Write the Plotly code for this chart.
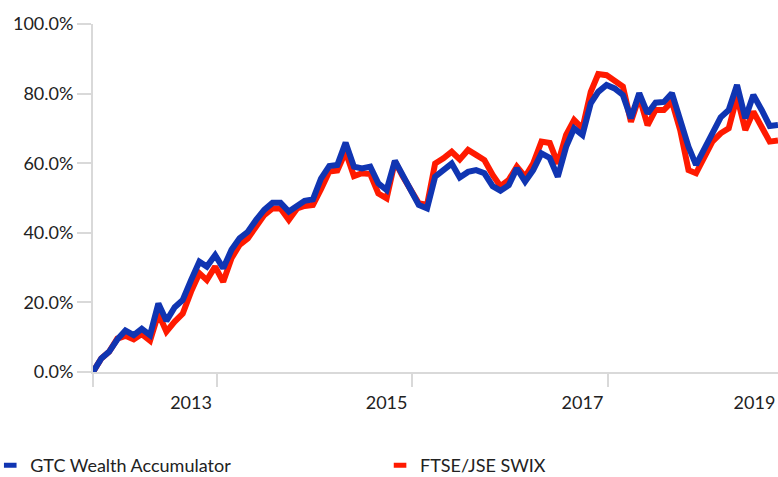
import pandas as pd
import plotly.graph_objects as go

dates = pd.date_range("2012-01-01", periods=85, freq="MS")

gtc = [0, 3.9, 5.8, 9.4, 11.9, 10.6, 12.4, 10.6, 19.7, 14.7,
       18.6, 20.7, 26.4, 31.7, 30.3, 33.6, 29.8, 35.1, 38.4, 40.3,
       43.7, 46.6, 48.6, 48.6, 46.1, 48.0, 49.2, 49.6, 55.6, 59.2,
       59.5, 65.9, 59.0, 58.5, 59.0, 54.2, 52.3, 60.7, 56.6, 52.3,
       48.0, 47.0, 56.1, 58.0, 59.9, 55.9, 57.5, 58.0, 57.1, 53.4,
       52.1, 53.7, 58.5, 54.7, 58.0, 62.8, 61.5, 56.1, 64.7, 70.0,
       68.1, 77.2, 80.5, 82.5, 81.5, 79.6, 72.9, 80.1, 74.3, 77.4,
       77.6, 80.1, 71.9, 64.7, 59.5, 64.3, 68.6, 73.2, 75.3, 82.5,
       72.9, 79.6, 75.3, 70.7, 71.0]

swix = [0, 3.9, 5.8, 9.6, 10.4, 9.4, 10.9, 9.0, 16.8, 11.6,
        14.5, 16.8, 23.1, 28.4, 26.4, 30.3, 25.9, 32.7, 36.5, 38.4,
        41.8, 45.1, 47.0, 47.0, 43.7, 47.0, 47.7, 48.0, 52.5, 57.6,
        57.9, 63.3, 56.3, 57.1, 56.9, 51.3, 49.9, 60.5, 56.4, 52.1,
        48.5, 48.0, 59.9, 61.4, 63.3, 61.1, 63.8, 62.4, 60.9, 56.6,
        53.4, 55.2, 59.0, 56.1, 59.9, 66.2, 65.8, 59.9, 68.1, 72.4,
        70.0, 80.5, 85.6, 85.3, 83.9, 82.0, 71.9, 79.1, 70.9, 75.3,
        75.3, 77.7, 69.5, 58.0, 57.1, 61.9, 66.2, 68.6, 70.0, 79.1,
        69.5, 74.8, 70.5, 66.2, 66.5]

year_labels = ["2013", "2015", "2017", "2019"]
label_pos = ["2013-01-01", "2015-01-01", "2017-01-01", "2018-10-05"]
tick_pos = ["2012-01-01", "2013-04-07", "2015-04-07", "2017-04-07"]

y_vals = [0, 20, 40, 60, 80, 100]
y_labels = ["0.0%", "20.0%", "40.0%", "60.0%", "80.0%", "100.0%"]

BLUE = "#1035b2"
RED = "#ff1a00"
AXIS = "#d9d9d9"
TXT = "#222222"

fig = go.Figure()
fig.add_trace(go.Scatter(x=dates, y=swix, mode="lines", line=dict(color=RED, width=6),
                         showlegend=False, hoverinfo="skip"))
fig.add_trace(go.Scatter(x=dates, y=gtc, mode="lines", line=dict(color=BLUE, width=6),
                         showlegend=False, hoverinfo="skip"))
# legend entries
fig.add_trace(go.Scatter(x=[None], y=[None], mode="markers", name="GTC Wealth Accumulator",
                         marker=dict(symbol="line-ew", size=9, line=dict(color=BLUE, width=5)),
                         legend="legend"))
fig.add_trace(go.Scatter(x=[None], y=[None], mode="markers", name="FTSE/JSE SWIX",
                         marker=dict(symbol="line-ew", size=9, line=dict(color=RED, width=5)),
                         legend="legend2"))

leg_common = dict(orientation="h", yref="container",
                  xanchor="left", y=0.024, yanchor="middle",
                  font=dict(size=18, color=TXT), bgcolor="rgba(0,0,0,0)",
                  itemclick=False)

fig.update_layout(
    width=778, height=477,
    margin=dict(l=93, r=0, t=24, b=105, autoexpand=False),
    paper_bgcolor="white", plot_bgcolor="white",
    font=dict(family="Lato", size=18, color=TXT),
    showlegend=True,
    legend=dict(xref="paper", x=-0.150, **leg_common),
    legend2=dict(xref="container", x=0.4885, **leg_common),
    xaxis=dict(
        range=[dates[0], dates[-1]], automargin=False,
        showgrid=False, zeroline=False,
        showline=True, linecolor=AXIS, linewidth=2,
        tickmode="array", tickvals=label_pos, ticktext=year_labels,
        ticks="outside", ticklen=13, tickcolor="rgba(0,0,0,0)",
        minor=dict(tickmode="array", tickvals=tick_pos, ticks="outside",
                   ticklen=13, tickwidth=2, tickcolor=AXIS, showgrid=False),
        tickfont=dict(size=18, color=TXT),
    ),
    yaxis=dict(
        range=[0, 100], automargin=False,
        showgrid=False, zeroline=False,
        showline=True, linecolor=AXIS, linewidth=2,
        tickmode="array", tickvals=y_vals, ticktext=y_labels,
        ticks="outside", ticklen=14, tickwidth=2, tickcolor=AXIS,
        tickfont=dict(size=18, color=TXT),
    ),
)

fig.write_html("out.html", config={"displayModeBar": False},
               post_script="document.body.style.margin='0';")
